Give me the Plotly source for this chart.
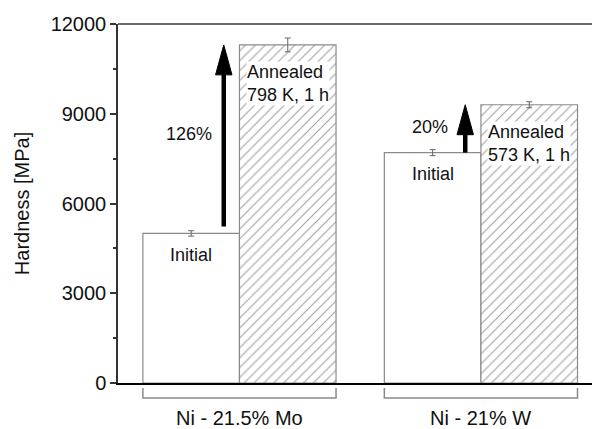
import plotly.graph_objects as go

# ---- data ----
alloys = ["Ni - 21.5% Mo", "Ni - 21% W"]
initial = [5000, 7700]
annealed = [11300, 9300]
initial_err = [90, 100]
annealed_err = [230, 100]
arrow_from = [5230, 7700]
increase_labels = ["126%", "20%"]
anneal_labels = ["Annealed<br>798 K, 1 h", "Annealed<br>573 K, 1 h"]
initial_label = "Initial"
y_ticks = [0, 3000, 6000, 9000, 12000]

FONT = "Liberation Sans, Arial, sans-serif"
TXT = "#111111"
gx = list(range(len(alloys)))

fig = go.Figure()
fig.add_trace(go.Bar(
    x=gx, y=initial, name="Initial",
    marker=dict(color="white", line=dict(color="#8a8a8a", width=1.2)),
    error_y=dict(type="data", array=initial_err, color="#666", thickness=1, width=3),
))
fig.add_trace(go.Bar(
    x=gx, y=annealed, name="Annealed",
    marker=dict(color="white", line=dict(color="#8a8a8a", width=1.2),
                pattern=dict(shape="/", fgcolor="#444444", bgcolor="white",
                             size=7, solidity=0.16)),
    error_y=dict(type="data", array=annealed_err, color="#666", thickness=1, width=3),
))

shapes = []
annotations = []
head_len = 1000      # MPa
head_half = 0.034    # x units
arrow_dx = -0.065
for i, g in enumerate(gx):
    xa = g + arrow_dx
    tip = annealed[i]
    shapes.append(dict(type="line", xref="x", yref="y", x0=xa, x1=xa,
                       y0=arrow_from[i], y1=tip - head_len + 50,
                       line=dict(color="black", width=4.5)))
    shapes.append(dict(type="path", xref="x", yref="y",
                       path=f"M {xa - head_half},{tip - head_len} L {xa},{tip} L {xa + head_half},{tip - head_len} Z",
                       fillcolor="black", line=dict(color="black", width=1)))
    # bracket under each group
    shapes.append(dict(type="path", xref="x", yref="paper",
                       path=f"M {g - 0.4},-0.014 L {g - 0.4},-0.042 L {g + 0.4},-0.042 L {g + 0.4},-0.014",
                       line=dict(color="#8a8a8a", width=1.5)))
    # group label
    annotations.append(dict(x=g, y=-0.0975, xref="x", yref="paper", text=alloys[i],
                            showarrow=False, font=dict(family=FONT, size=20, color=TXT),
                            xanchor="center", yanchor="middle"))
    # percent label
    annotations.append(dict(x=g - 0.21, y=(arrow_from[i] + tip) / 2 + 50, xref="x", yref="y",
                            text=increase_labels[i], showarrow=False,
                            font=dict(family=FONT, size=18, color=TXT)))
    # initial label
    annotations.append(dict(x=g - 0.2, y=initial[i] - 720, xref="x", yref="y",
                            text=initial_label, showarrow=False,
                            font=dict(family=FONT, size=18, color=TXT)))
    # annealed label
    annotations.append(dict(x=g + 0.2, y=annealed[i] - 1300, xref="x", yref="y",
                            text=anneal_labels[i], showarrow=False, bgcolor="white",
                            borderpad=0, align="left",
                            font=dict(family=FONT, size=18, color=TXT)))

# top frame line
shapes.append(dict(type="line", xref="paper", yref="paper", x0=0, x1=1, y0=1, y1=1,
                   line=dict(color="#6a6a6a", width=2)))

fig.update_layout(
    width=592, height=429,
    margin=dict(l=118, r=0, t=24, b=46),
    paper_bgcolor="white", plot_bgcolor="white",
    barmode="group", bargap=0.2, bargroupgap=0,
    showlegend=False,
    shapes=shapes, annotations=annotations,
    font=dict(family=FONT, color=TXT),
    xaxis=dict(range=[-0.503, 1.46], showline=True, linecolor="black", linewidth=2,
               ticks="", showticklabels=False, showgrid=False, zeroline=False),
    yaxis=dict(range=[0, 12000], tickvals=y_ticks, tickformat="d", ticks="outside", ticklen=6,
               tickwidth=1.5, tickcolor="#333", showline=True, linecolor="#333",
               linewidth=1.5, showgrid=False, zeroline=False,
               tickfont=dict(family=FONT, size=20, color=TXT),
               minor=dict(ticks="outside", ticklen=3, tickwidth=1.5, tickcolor="#333",
                          dtick=1500, showgrid=False),
               title=dict(text="Hardness [MPa]", standoff=16,
                          font=dict(family=FONT, size=20, color=TXT))),
)

fig.write_html("out.html")
